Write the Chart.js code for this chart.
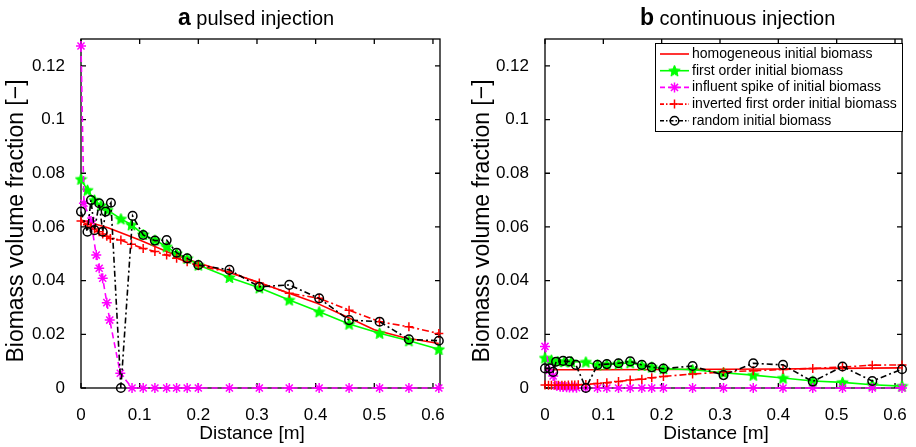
<!DOCTYPE html>
<html>
<head>
<meta charset="utf-8">
<script src="https://cdn.jsdelivr.net/npm/chart.js@4.4.1/dist/chart.umd.min.js"></script>
<style>
  html, body { margin: 0; padding: 0; background: #fff; }
  #wrap { position: relative; width: 916px; height: 447px; }
  canvas { position: absolute; top: 0; }
  #pulsed { left: 0; }
  #continuous { left: 458px; }
</style>
</head>
<body>
<div id="wrap">
  <canvas id="pulsed" width="458" height="447"></canvas>
  <canvas id="continuous" width="458" height="447"></canvas>
</div>
<script>
// axis ticks
const xTickValues = [0, 0.1, 0.2, 0.3, 0.4, 0.5, 0.6];
const xTickLabels = ["0", "0.1", "0.2", "0.3", "0.4", "0.5", "0.6"];
const yTickValues = [0, 0.02, 0.04, 0.06, 0.08, 0.1, 0.12];
const yTickLabels = ["0", "0.02", "0.04", "0.06", "0.08", "0.1", "0.12"];

const seriesNames = [
  "homogeneous initial biomass",
  "first order initial biomass",
  "influent spike of initial biomass",
  "inverted first order initial biomass",
  "random initial biomass"
];

// (a) pulsed injection
const pulsedHomogeneousX = [0, 0.046, 0.1, 0.15, 0.2, 0.25, 0.3, 0.35, 0.4, 0.45, 0.5, 0.55, 0.61];
const pulsedHomogeneousY = [0.0626, 0.0597, 0.0551, 0.0505, 0.0466, 0.0432, 0.0396, 0.0357, 0.0318, 0.0268, 0.0217, 0.0188, 0.0166];

const pulsedFirstOrderX = [0, 0.011, 0.023, 0.034, 0.045, 0.068, 0.086, 0.106, 0.126, 0.146, 0.163, 0.181, 0.2, 0.253, 0.304, 0.355, 0.406, 0.457, 0.509, 0.559, 0.61];
const pulsedFirstOrderY = [0.0778, 0.0737, 0.0700, 0.0680, 0.0663, 0.0630, 0.0608, 0.0572, 0.0551, 0.0526, 0.0501, 0.0483, 0.0458, 0.0412, 0.0373, 0.0328, 0.0284, 0.0238, 0.0204, 0.0176, 0.0144];

const pulsedSpikeX = [0, 0.005, 0.017, 0.026, 0.031, 0.037, 0.044, 0.049, 0.067, 0.087, 0.106, 0.126, 0.146, 0.163, 0.181, 0.2, 0.253, 0.304, 0.355, 0.406, 0.457, 0.509, 0.559, 0.61];
const pulsedSpikeY = [0.1274, 0.0688, 0.0622, 0.0495, 0.0446, 0.0409, 0.0318, 0.0253, 0.0055, 0, 0, 0, 0, 0, 0, 0, 0, 0, 0, 0, 0, 0, 0, 0];

const pulsedInvertedX = [0, 0.011, 0.017, 0.023, 0.031, 0.037, 0.044, 0.05, 0.068, 0.086, 0.106, 0.126, 0.146, 0.163, 0.181, 0.2, 0.253, 0.304, 0.355, 0.406, 0.457, 0.509, 0.559, 0.61];
const pulsedInvertedY = [0.0622, 0.0608, 0.0600, 0.0592, 0.0582, 0.0574, 0.0565, 0.0557, 0.0551, 0.0535, 0.0520, 0.0508, 0.0495, 0.0483, 0.0470, 0.0455, 0.0432, 0.0391, 0.0353, 0.0334, 0.0290, 0.0247, 0.0228, 0.0203];

const pulsedRandomX = [0, 0.011, 0.017, 0.023, 0.031, 0.037, 0.042, 0.051, 0.068, 0.088, 0.106, 0.126, 0.146, 0.163, 0.181, 0.2, 0.253, 0.304, 0.355, 0.406, 0.457, 0.509, 0.559, 0.61];
const pulsedRandomY = [0.0657, 0.0582, 0.0700, 0.0588, 0.0688, 0.0582, 0.0657, 0.0690, 0, 0.0641, 0.0570, 0.0549, 0.0551, 0.0504, 0.0483, 0.0458, 0.0440, 0.0377, 0.0384, 0.0334, 0.0253, 0.0247, 0.0181, 0.0176];

// (b) continuous injection
const contHomogeneousX = [0, 0.1, 0.2, 0.3, 0.4, 0.5, 0.61];
const contHomogeneousY = [0.0068, 0.0068, 0.0069, 0.0070, 0.0071, 0.0073, 0.0075];

const contFirstOrderX = [0, 0.011, 0.022, 0.033, 0.045, 0.07, 0.09, 0.106, 0.126, 0.146, 0.166, 0.183, 0.203, 0.253, 0.306, 0.357, 0.408, 0.459, 0.51, 0.561, 0.612];
const contFirstOrderY = [0.0112, 0.0104, 0.0099, 0.0098, 0.0098, 0.0097, 0.0086, 0.0088, 0.0090, 0.0094, 0.0084, 0.0078, 0.0072, 0.0068, 0.0057, 0.0048, 0.0037, 0.0026, 0.0021, 0.0012, 0.0007];

const contSpikeX = [0, 0.008, 0.014, 0.02, 0.026, 0.031, 0.037, 0.042, 0.048, 0.054, 0.07, 0.09, 0.106, 0.126, 0.146, 0.166, 0.183, 0.203, 0.253, 0.306, 0.357, 0.408, 0.459, 0.51, 0.561, 0.612];
const contSpikeY = [0.0155, 0.0066, 0.0045, 0.0008, 0.0005, 0.0004, 0.0003, 0.0002, 0.0002, 0.0001, 0, 0, 0, 0, 0, 0, 0, 0, 0, 0, 0, 0, 0, 0, 0, 0];

const contInvertedX = [0, 0.006, 0.011, 0.017, 0.023, 0.029, 0.034, 0.04, 0.046, 0.051, 0.057, 0.07, 0.09, 0.106, 0.126, 0.146, 0.166, 0.183, 0.203, 0.253, 0.306, 0.357, 0.408, 0.459, 0.51, 0.561, 0.612];
const contInvertedY = [0.0011, 0.0010, 0.0010, 0.0010, 0.0010, 0.0010, 0.0010, 0.0011, 0.0011, 0.0011, 0.0012, 0.0013, 0.0017, 0.0020, 0.0024, 0.0030, 0.0033, 0.0038, 0.0043, 0.0052, 0.0060, 0.0064, 0.0069, 0.0073, 0.0078, 0.0085, 0.0086];

const contRandomX = [0, 0.008, 0.014, 0.019, 0.031, 0.042, 0.053, 0.07, 0.09, 0.106, 0.126, 0.146, 0.166, 0.183, 0.203, 0.253, 0.306, 0.357, 0.408, 0.459, 0.51, 0.561, 0.612];
const contRandomY = [0.0073, 0.0073, 0.0060, 0.0098, 0.0101, 0.0099, 0.0086, 0, 0.0086, 0.0089, 0.0092, 0.0099, 0.0086, 0.0077, 0.0072, 0.0082, 0.0048, 0.0092, 0.0086, 0.0024, 0.0080, 0.0026, 0.0070];

const FONT = "Arial, 'Liberation Sans', Helvetica, sans-serif";

// filled pentagram marker (matlab 'p')
function makeStar(size, color) {
  const c = document.createElement("canvas");
  c.width = size; c.height = size;
  const g = c.getContext("2d");
  const cx = size / 2, cy = size / 2 + 0.5, R = size / 2 - 0.5, r = R * 0.45;
  g.beginPath();
  for (let i = 0; i < 10; i++) {
    const ang = -Math.PI / 2 + i * Math.PI / 5;
    const rr = i % 2 ? r : R;
    g.lineTo(cx + rr * Math.cos(ang), cy + rr * Math.sin(ang));
  }
  g.closePath();
  g.fillStyle = color; g.fill();
  g.strokeStyle = color; g.lineWidth = 1; g.stroke();
  return c;
}
const greenStar = makeStar(13, "#00ff00");

const seriesStyles = [
  { color: "#ff0000", dash: [], marker: null, order: 5 },
  { color: "#00ff00", dash: [], marker: greenStar, radius: 6, order: 4 },
  { color: "#ff00ff", dash: [6, 4], marker: "star", radius: 5, order: 3 },
  { color: "#ff0000", dash: [7, 3, 2, 3], marker: "cross", radius: 4.5, order: 2 },
  { color: "#000000", dash: [6, 3, 2, 3], marker: "circle", radius: 4.3, order: 1 }
];

function pts(xs, ys) { return xs.map((x, i) => ({ x: x, y: ys[i] })); }

function makeDatasets(list) {
  return list.map((d, i) => {
    const s = seriesStyles[i];
    return {
      label: seriesNames[i],
      data: pts(d[0], d[1]),
      order: s.order,
      borderColor: s.color,
      borderWidth: 1.6,
      borderDash: s.dash,
      backgroundColor: s.color,
      pointStyle: s.marker || "circle",
      pointRadius: s.marker ? s.radius : 0,
      pointBorderColor: s.color,
      pointBackgroundColor: s.marker === "circle" ? "rgba(0,0,0,0)" : s.color,
      pointBorderWidth: 1.5,
      tension: 0,
      clip: false
    };
  });
}

function drawMarker(ctx, s, x, y) {
  if (!s.marker) return;
  if (typeof s.marker === "object") {
    ctx.drawImage(s.marker, x - s.marker.width / 2, y - s.marker.height / 2);
    return;
  }
  const r = s.radius;
  ctx.save();
  ctx.setLineDash([]);
  ctx.strokeStyle = s.color;
  ctx.lineWidth = 1.5;
  ctx.beginPath();
  if (s.marker === "circle") {
    ctx.arc(x, y, r, 0, Math.PI * 2);
  } else if (s.marker === "cross") {
    ctx.moveTo(x - r, y); ctx.lineTo(x + r, y);
    ctx.moveTo(x, y - r); ctx.lineTo(x, y + r);
  } else if (s.marker === "star") {
    for (let k = 0; k < 4; k++) {
      const a = k * Math.PI / 4;
      ctx.moveTo(x - r * Math.cos(a), y - r * Math.sin(a));
      ctx.lineTo(x + r * Math.cos(a), y + r * Math.sin(a));
    }
  }
  ctx.stroke();
  ctx.restore();
}

function panelPlugin(cfg) {
  return {
    id: "panel_" + cfg.letter,
    beforeDatasetsDraw(chart) {
      const { ctx, chartArea: a, scales: { x, y } } = chart;
      ctx.save();
      ctx.strokeStyle = "#000";
      ctx.lineWidth = 1.3;
      ctx.strokeRect(a.left, a.top, a.right - a.left, a.bottom - a.top);
      ctx.beginPath();
      xTickValues.forEach(v => {
        const px = x.getPixelForValue(v);
        ctx.moveTo(px, a.bottom); ctx.lineTo(px, a.bottom - 5);
        ctx.moveTo(px, a.top); ctx.lineTo(px, a.top + 5);
      });
      yTickValues.forEach(v => {
        const py = y.getPixelForValue(v);
        ctx.moveTo(a.left, py); ctx.lineTo(a.left + 5, py);
        ctx.moveTo(a.right, py); ctx.lineTo(a.right - 5, py);
      });
      ctx.stroke();
      ctx.restore();
    },
    afterDraw(chart) {
      const ctx = chart.ctx;
      ctx.save();
      ctx.fillStyle = "#000";
      ctx.textBaseline = "alphabetic";
      // panel title: bold letter + text
      ctx.font = "bold 23px " + FONT;
      ctx.textAlign = "left";
      ctx.fillText(cfg.letter, cfg.titleX, 25);
      const lw = ctx.measureText(cfg.letter).width;
      ctx.font = "20px " + FONT;
      ctx.fillText(" " + cfg.title, cfg.titleX + lw, 25);
      // x axis title
      ctx.font = "19px " + FONT;
      ctx.textAlign = "center";
      ctx.fillText("Distance [m]", cfg.xTitleX, 439);
      // y axis title
      ctx.save();
      ctx.translate(cfg.yTitleX, 221);
      ctx.rotate(-Math.PI / 2);
      ctx.font = "23px " + FONT;
      ctx.textBaseline = "middle";
      ctx.fillText("Biomass volume fraction [\u2212]", 0, 0);
      ctx.restore();

      if (cfg.legend) {
        const L = cfg.legend;
        ctx.fillStyle = "#fff";
        ctx.fillRect(L.x, L.y, L.w, L.h);
        ctx.strokeStyle = "#000";
        ctx.lineWidth = 1;
        ctx.strokeRect(L.x + 0.5, L.y + 0.5, L.w, L.h);
        ctx.font = "14px " + FONT;
        ctx.textAlign = "left";
        ctx.textBaseline = "middle";
        seriesStyles.forEach((s, i) => {
          const ry = L.y + 11 + i * 16.7;
          ctx.save();
          ctx.strokeStyle = s.color;
          ctx.lineWidth = 1.6;
          ctx.setLineDash(s.dash.length ? [4, 2, 1.5, 2] : []);
          if (i === 2) ctx.setLineDash([5, 3]);
          ctx.beginPath();
          ctx.moveTo(L.x + 5, ry); ctx.lineTo(L.x + 34, ry);
          ctx.stroke();
          ctx.restore();
          drawMarker(ctx, s, L.x + 19.5, ry);
          ctx.fillStyle = "#000";
          ctx.fillText(seriesNames[i], L.x + 37, ry);
        });
      }
      ctx.restore();
    }
  };
}

function makeChart(id, datasets, leftWidth, padRight, cfg) {
  return new Chart(document.getElementById(id).getContext("2d"), {
    type: "line",
    data: { datasets: datasets },
    options: {
      responsive: false,
      animation: false,
      events: [],
      layout: { padding: { left: 0, right: padRight, top: 39, bottom: 0 } },
      plugins: { legend: { display: false }, tooltip: { enabled: false }, title: { display: false } },
      scales: {
        x: {
          type: "linear",
          min: 0,
          max: 0.612,
          grid: { display: false },
          border: { display: false },
          afterBuildTicks: s => { s.ticks = xTickValues.map(v => ({ value: v })); },
          afterFit: s => { s.height = 59; },
          ticks: {
            padding: 9,
            color: "#000",
            font: { family: FONT, size: 17 },
            maxRotation: 0,
            callback: v => xTickLabels[xTickValues.indexOf(v)]
          }
        },
        y: {
          type: "linear",
          min: 0,
          max: 0.13,
          grid: { display: false },
          border: { display: false },
          afterBuildTicks: s => { s.ticks = yTickValues.map(v => ({ value: v })); },
          afterFit: s => { s.width = leftWidth; },
          ticks: {
            padding: 8,
            color: "#000",
            font: { family: FONT, size: 17 },
            callback: v => yTickLabels[yTickValues.indexOf(v)]
          }
        }
      }
    },
    plugins: [panelPlugin(cfg)]
  });
}

makeChart("pulsed", makeDatasets([
  [pulsedHomogeneousX, pulsedHomogeneousY],
  [pulsedFirstOrderX, pulsedFirstOrderY],
  [pulsedSpikeX, pulsedSpikeY],
  [pulsedInvertedX, pulsedInvertedY],
  [pulsedRandomX, pulsedRandomY]
]), 81, 18, { letter: "a", title: "pulsed injection", titleX: 178, xTitleX: 252, yTitleX: 17, legend: null });

makeChart("continuous", makeDatasets([
  [contHomogeneousX, contHomogeneousY],
  [contFirstOrderX, contFirstOrderY],
  [contSpikeX, contSpikeY],
  [contInvertedX, contInvertedY],
  [contRandomX, contRandomY]
]), 87, 9, { letter: "b", title: "continuous injection", titleX: 182, xTitleX: 258, yTitleX: 25,
  legend: { x: 197, y: 43, w: 247, h: 88 } });
</script>
</body>
</html>
